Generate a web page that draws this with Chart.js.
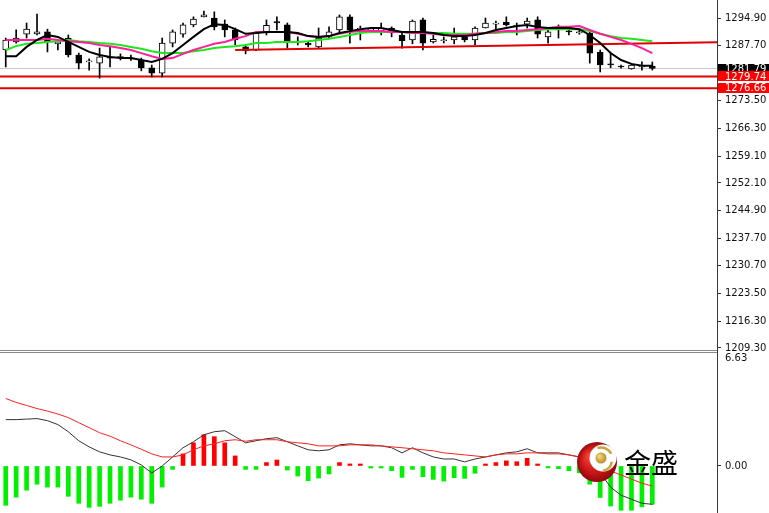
<!DOCTYPE html>
<html><head><meta charset="utf-8">
<script src="https://cdn.jsdelivr.net/npm/chart.js@4.4.1/dist/chart.umd.min.js"></script>
<style>
html,body{margin:0;padding:0;background:#fff;}
#wrap{position:relative;width:769px;height:513px;overflow:hidden;background:#fff;}
#p1{position:absolute;left:0;top:0;width:769px;height:353px;}
#p2{position:absolute;left:0;top:353px;width:769px;height:160px;}
.sep{position:absolute;left:0;width:717px;height:1px;background:#8a8a8a;}
.vax{position:absolute;left:717px;top:349px;width:1px;height:5px;background:#3a3a3a;}
</style></head><body>
<div id="wrap">
<div id="p1"><canvas id="c1"></canvas></div>
<div id="p2"><canvas id="c2"></canvas></div>
<div class="sep" style="top:350px"></div>
<div class="sep" style="top:352px"></div>
<div class="vax"></div>
</div>
<script>
// ---------- price pane data ----------
const openP = [1286.6,1288.7,1290.7,1290.8,1291.3,1288.2,1289.7,1285.3,1283.5,1283.2,
1284.8,1284.9,1284.5,1284.0,1282.0,1280.6,1288.4,1290.7,1293.1,1295.2,
1294.9,1293.3,1291.8,1287.4,1286.6,1291.0,1294.0,1293.1,1288.9,1288.4,
1287.4,1290.0,1291.8,1295.2,1292.0,1291.8,1291.5,1292.3,1290.5,1289.2,
1294.4,1288.7,1289.0,1289.2,1290.0,1289.2,1292.3,1293.3,1293.8,1292.8,
1293.3,1294.4,1290.0,1291.8,1291.5,1291.0,1291.0,1286.0,1283.0,1282.4,
1281.7,1282.2,1282.4];
const highP = [1289.7,1291.8,1293.6,1295.9,1292.0,1289.2,1290.5,1285.8,1284.3,1287.1,
1287.4,1285.6,1285.3,1284.5,1282.7,1289.7,1291.8,1293.6,1295.2,1296.7,
1296.5,1294.4,1292.3,1288.0,1291.3,1294.4,1295.2,1293.6,1290.0,1288.7,
1292.3,1292.6,1295.7,1295.7,1292.8,1292.3,1293.6,1292.6,1291.0,1294.4,
1294.9,1290.5,1290.0,1292.3,1290.7,1292.6,1294.9,1294.1,1295.2,1293.6,
1294.9,1295.2,1291.8,1293.1,1292.0,1292.0,1291.5,1286.6,1285.8,1282.7,
1283.0,1283.5,1283.5];
const lowP = [1282.2,1288.4,1289.7,1290.5,1286.1,1286.6,1284.8,1281.7,1281.4,1279.3,
1282.2,1284.0,1283.9,1281.2,1279.6,1279.6,1287.4,1289.9,1292.6,1295.2,
1291.8,1290.0,1287.9,1285.6,1286.4,1290.5,1291.8,1287.1,1287.9,1287.4,
1287.1,1289.5,1291.3,1288.4,1289.2,1291.3,1290.5,1290.0,1287.1,1288.2,
1286.6,1288.4,1288.4,1288.2,1288.7,1287.9,1292.3,1291.8,1292.8,1290.5,
1292.3,1289.7,1288.4,1289.7,1290.5,1290.7,1283.2,1280.9,1282.0,1281.9,
1281.6,1281.4,1281.4];
const closeP = [1289.2,1289.7,1292.0,1291.3,1288.7,1288.7,1285.3,1283.2,1283.7,1284.8,
1284.5,1284.6,1284.3,1282.0,1280.6,1288.4,1291.3,1293.1,1294.6,1295.7,
1292.6,1291.8,1289.2,1286.4,1291.0,1293.0,1293.6,1288.7,1288.6,1287.9,
1289.7,1291.3,1295.2,1291.8,1292.3,1291.9,1292.3,1291.0,1289.0,1294.1,
1288.4,1289.4,1289.2,1290.0,1289.2,1292.3,1293.6,1293.4,1293.1,1293.0,
1294.1,1290.7,1291.3,1291.9,1291.3,1291.3,1285.8,1282.7,1282.7,1282.2,
1282.7,1282.4,1281.79];
const maFast = [1285.0,1285.0,1287.4,1289.2,1290.5,1290.0,1288.7,1287.4,1286.1,1285.3,
1284.8,1284.5,1284.5,1284.0,1283.5,1284.3,1285.8,1287.9,1290.0,1292.0,
1293.3,1293.1,1292.0,1290.8,1291.0,1291.3,1291.3,1291.3,1291.0,1290.2,
1290.0,1290.2,1291.0,1291.5,1292.0,1292.3,1292.3,1291.8,1291.3,1291.3,
1291.3,1291.0,1290.5,1290.2,1290.2,1290.5,1291.0,1291.8,1292.3,1292.8,
1293.1,1292.6,1292.3,1292.3,1292.3,1292.0,1290.5,1288.4,1285.8,1284.0,
1283.0,1282.5,1282.5];
const maMid = [1289.2,1289.2,1289.2,1289.2,1289.5,1289.2,1288.9,1288.7,1288.4,1287.9,
1287.6,1287.1,1286.6,1285.8,1285.0,1284.3,1284.5,1285.6,1286.6,1287.4,
1288.2,1288.7,1289.5,1290.2,1291.3,1291.3,1291.3,1291.3,1290.8,1290.2,
1290.0,1290.2,1290.8,1291.3,1291.5,1291.5,1291.5,1291.3,1291.3,1291.0,
1291.0,1290.8,1290.5,1290.5,1290.5,1290.8,1291.0,1291.3,1291.5,1291.5,
1291.8,1292.0,1292.3,1292.6,1292.6,1292.8,1291.8,1290.8,1290.0,1289.2,
1288.2,1287.1,1285.8];
const maSlow = [1286.6,1287.6,1288.2,1288.4,1288.7,1288.9,1289.2,1288.9,1288.7,1288.4,
1288.2,1287.9,1287.4,1286.9,1286.3,1285.8,1285.8,1285.8,1286.3,1286.6,
1287.1,1287.4,1287.6,1287.9,1288.4,1288.4,1288.7,1288.7,1288.7,1288.9,
1289.2,1289.5,1290.0,1290.5,1291.0,1291.3,1291.3,1291.3,1291.3,1291.0,
1291.0,1291.0,1291.0,1290.8,1290.8,1290.8,1291.0,1291.0,1291.3,1291.3,
1291.5,1291.8,1292.0,1292.0,1292.0,1292.0,1291.5,1290.8,1290.2,1289.7,
1289.5,1289.2,1288.9];
const trendX = [22, 68.2];
const trendY = [1286.6, 1288.6];
const levelValues = [1281.79, 1279.74, 1276.66];
const priceTicks = [1294.90,1287.70,1280.50,1273.50,1266.30,1259.10,1252.10,1244.90,1237.70,1230.70,1223.50,1216.30,1209.30];

// ---------- MACD pane data ----------
const macdHist = [-2.31,-1.83,-1.42,-1.07,-1.24,-1.24,-1.78,-2.19,-2.43,-2.37,
-2.19,-2.01,-1.83,-1.95,-2.19,-1.24,-0.2,0.71,1.36,1.83,
1.72,1.36,0.59,-0.2,-0.2,0.2,0.35,-0.24,-0.59,-0.87,
-0.71,-0.47,0.2,0.12,0.04,-0.12,-0.06,-0.28,-0.67,-0.2,
-0.63,-0.79,-0.89,-0.69,-0.73,-0.43,0.04,0.2,0.3,0.25,
0.45,0.04,-0.06,-0.16,-0.28,-0.4,-1.07,-1.85,-2.35,-2.6,
-2.6,-2.4,-2.25];
const macdMain = [2.72,2.72,2.75,2.78,2.66,2.43,2.01,1.48,1.12,0.83,
0.65,0.53,0.36,0.06,-0.41,0.0,0.53,1.07,1.42,1.83,
2.01,2.07,1.72,1.36,1.48,1.60,1.66,1.42,1.18,0.95,
0.89,0.95,1.24,1.30,1.24,1.18,1.18,1.07,0.77,1.07,
0.77,0.53,0.41,0.41,0.24,0.41,0.53,0.65,0.77,0.83,
1.01,0.77,0.77,0.77,0.65,0.53,0.18,-0.41,-1.24,-1.72,
-1.95,-2.19,-2.25];
const macdSignal = [3.96,3.73,3.55,3.37,3.22,3.05,2.84,2.54,2.25,1.95,
1.75,1.48,1.24,0.98,0.71,0.53,0.53,0.65,0.95,1.18,
1.30,1.48,1.54,1.45,1.54,1.54,1.54,1.42,1.36,1.30,
1.18,1.18,1.18,1.24,1.24,1.24,1.18,1.12,1.07,1.01,
0.95,0.89,0.77,0.71,0.65,0.59,0.53,0.65,0.71,0.71,
0.77,0.77,0.71,0.71,0.65,0.53,0.24,-0.06,-0.30,-0.53,
-0.77,-1.01,-1.18];
const macdTicks = [6.63, 0.00];

// ---------- setup ----------
Chart.defaults.font.family = '"DejaVu Sans", sans-serif';
Chart.defaults.font.size = 10;
Chart.defaults.animation = false;

const X_MIN = -0.55, X_MAX = 68.2;
const AXIS_W = 52;
const pts = arr => arr.map((v, i) => ({x: i, y: v}));
const bull = openP.map((o, i) => closeP[i] >= o);

const xScale = {type: 'linear', min: X_MIN, max: X_MAX, display: false, offset: false};
const fitAxis = s => { s.width = AXIS_W; s.paddingTop = 0; s.paddingBottom = 0; };

const levelBoxes = {
  id: 'levelBoxes',
  afterDraw(chart) {
    const {ctx, chartArea} = chart;
    const y = chart.scales.y;
    const bgs = ['#000000', '#ff0000', '#ff0000'];
    ctx.save();
    ctx.font = '10px "DejaVu Sans"';
    ctx.textBaseline = 'middle';
    ctx.textAlign = 'left';
    levelValues.forEach((v, i) => {
      const py = y.getPixelForValue(v);
      ctx.fillStyle = bgs[i];
      ctx.fillRect(chartArea.right + 1, Math.round(py) - 5, 60, 10);
      ctx.fillStyle = '#ffffff';
      ctx.fillText(v.toFixed(2), chartArea.right + 8, py + 0.5);
    });
    ctx.restore();
  }
};

const levelColors = ['#c8c8c8', '#e00000', '#e00000'];
const levelWidths = [1, 2, 2];

new Chart(document.getElementById('c1'), {
  type: 'bar',
  data: {
    datasets: [
      {type: 'line', data: pts(maFast), borderColor: '#000000', borderWidth: 2, pointRadius: 0, order: 0},
      {type: 'line', data: pts(maMid), borderColor: '#ff1f9a', borderWidth: 2, pointRadius: 0, order: 1},
      {type: 'line', data: pts(maSlow), borderColor: '#1ee61e', borderWidth: 2, pointRadius: 0, order: 2},
      {type: 'line', data: trendX.map((x, i) => ({x, y: trendY[i]})), borderColor: '#e00000', borderWidth: 2, pointRadius: 0, order: 3},
      {type: 'bar', data: openP.map((o, i) => ({x: i, y: [o, closeP[i]]})),
        backgroundColor: bull.map(b => b ? '#ffffff' : '#000000'), borderColor: '#000000',
        borderWidth: 1, borderSkipped: false, barThickness: 6, grouped: false, minBarLength: 1, order: 4},
      {type: 'bar', data: lowP.map((l, i) => ({x: i, y: [l, highP[i]]})),
        backgroundColor: '#000000', borderWidth: 0, barThickness: 1, grouped: false, order: 5},
      ...levelValues.map((v, i) => ({type: 'line', data: [{x: X_MIN, y: v}, {x: X_MAX, y: v}],
        borderColor: levelColors[i], borderWidth: levelWidths[i], pointRadius: 0, order: 6 + i}))
    ]
  },
  options: {
    responsive: true, maintainAspectRatio: false,
    layout: {padding: {left: 0, right: 0, top: 0, bottom: 3}},
    plugins: {legend: {display: false}, tooltip: {enabled: false}},
    scales: {
      x: xScale,
      y: {
        position: 'right', min: 1208.78, max: 1299.57, beginAtZero: false,
        afterBuildTicks: s => { s.ticks = priceTicks.map(v => ({value: v})); },
        afterFit: fitAxis,
        ticks: {autoSkip: false, color: '#111', padding: 4, callback: v => Number(v).toFixed(2)},
        grid: {drawOnChartArea: false, tickLength: 4, tickColor: '#333'},
        border: {display: true, color: '#3a3a3a', width: 1}
      }
    }
  },
  plugins: [levelBoxes]
});

const macdExtras = {
  id: 'macdExtras',
  afterDraw(chart) {
    const {ctx, chartArea} = chart;
    const y = chart.scales.y;
    ctx.save();
    ctx.font = '10px "DejaVu Sans"';
    ctx.fillStyle = '#111';
    ctx.textBaseline = 'middle';
    ctx.fillText(macdTicks[0].toFixed(2), chartArea.right + 8, y.getPixelForValue(macdTicks[0]) + 5);
    // logo
    const cx = 597, cy = 109, r = 20;
    const g = ctx.createRadialGradient(cx - 8, cy - 6, 2, cx, cy, r);
    g.addColorStop(0, '#f0402f'); g.addColorStop(0.6, '#cc1518'); g.addColorStop(1, '#8e0a0e');
    ctx.beginPath(); ctx.arc(cx, cy, r, 0, Math.PI * 2); ctx.fillStyle = g; ctx.fill();
    ctx.beginPath(); ctx.arc(cx + 6, cy - 4, 13.5, 0, Math.PI * 2); ctx.fillStyle = '#ffffff'; ctx.fill();
    ctx.beginPath(); ctx.arc(cx + 4, cy - 3, 11.5, -Math.PI * 0.6, -Math.PI * 0.15);
    ctx.strokeStyle = '#c9a43a'; ctx.lineWidth = 2.5; ctx.stroke();
    ctx.beginPath(); ctx.arc(cx + 4, cy - 2, 11, Math.PI * 0.05, Math.PI * 0.45);
    ctx.strokeStyle = '#c9a43a'; ctx.lineWidth = 2.5; ctx.stroke();
    const gb = ctx.createRadialGradient(cx + 2, cy - 6, 1, cx + 4, cy - 4, 6);
    gb.addColorStop(0, '#f2d27a'); gb.addColorStop(1, '#b08a22');
    ctx.beginPath(); ctx.arc(cx + 4, cy - 4, 5.5, 0, Math.PI * 2); ctx.fillStyle = gb; ctx.fill();
    ctx.font = '27px "Noto Sans CJK SC"';
    ctx.fillStyle = '#000000';
    ctx.textBaseline = 'middle';
    ctx.fillText('金盛', 624, 110);
    ctx.restore();
  }
};

new Chart(document.getElementById('c2'), {
  type: 'bar',
  data: {
    datasets: [
      {type: 'line', data: pts(macdSignal), borderColor: '#ff2020', borderWidth: 1, pointRadius: 0, order: 0},
      {type: 'line', data: pts(macdMain), borderColor: '#333333', borderWidth: 1, pointRadius: 0, order: 1},
      {type: 'bar', data: pts(macdHist), backgroundColor: macdHist.map(v => v >= 0 ? '#ff0000' : '#00f000'),
        borderWidth: 0, barThickness: 4, grouped: false, minBarLength: 2, order: 2}
    ]
  },
  options: {
    responsive: true, maintainAspectRatio: false,
    layout: {padding: 0},
    plugins: {legend: {display: false}, tooltip: {enabled: false}},
    scales: {
      x: xScale,
      y: {
        position: 'right', min: -2.76, max: 6.63, beginAtZero: false,
        afterBuildTicks: s => { s.ticks = macdTicks.map(v => ({value: v})); },
        afterFit: fitAxis,
        ticks: {autoSkip: false, color: '#111', padding: 4,
          callback: v => (v === macdTicks[0] ? '' : Number(v).toFixed(2))},
        grid: {drawOnChartArea: false, tickLength: 4,
          tickColor: c => (c.tick && c.tick.value === macdTicks[0] ? 'rgba(0,0,0,0)' : '#333')},
        border: {display: true, color: '#3a3a3a', width: 1}
      }
    }
  },
  plugins: [macdExtras]
});
</script>
</body></html>
